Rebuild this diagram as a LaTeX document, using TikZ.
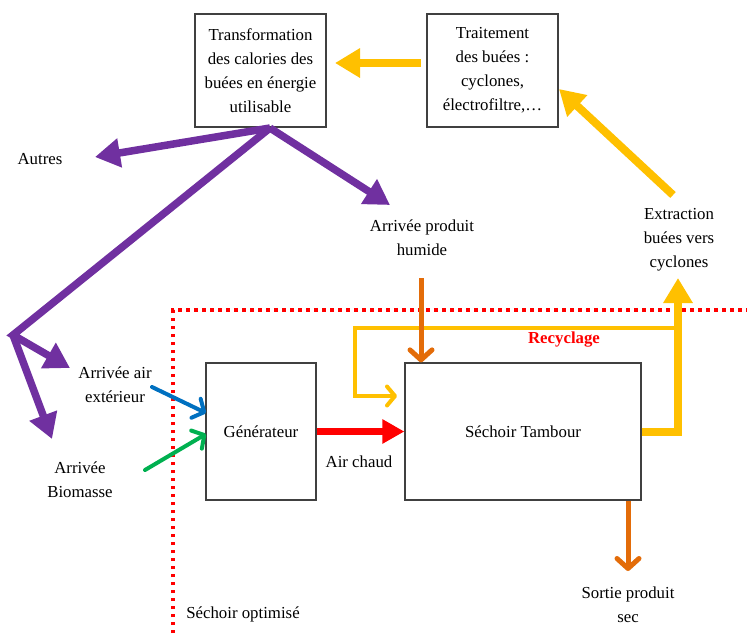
\documentclass[tikz,border=0pt]{standalone}
\usepackage{fontspec}
\setmainfont{Liberation Serif}
\usetikzlibrary{arrows.meta}
\definecolor{cpurple}{HTML}{7030A0}
\definecolor{cyellow}{HTML}{FFC000}
\definecolor{corange}{HTML}{E36C09}
\definecolor{cblue}{HTML}{0070C0}
\definecolor{cgreen}{HTML}{00B050}
\definecolor{cred}{HTML}{FF0000}
\begin{document}
\begin{tikzpicture}[x=1pt,y=-1pt,
  lbl/.style={font=\fontsize{16.8}{24}\selectfont, align=center, inner sep=0pt},
  box/.style={draw=black!75, line width=1.2pt, font=\fontsize{16.8}{24}\selectfont, align=center, inner sep=0pt},
  bigtip/.style={-{Triangle[length=25pt,width=28pt]}},
  redtip/.style={-{Triangle[length=22pt,width=23pt]}},
  barb/.style={-{Straight Barb[length=9pt,width=21pt,round]}, line cap=round},
  purp/.style={draw=cpurple, line width=7.5pt, line join=miter},
  ybig/.style={draw=cyellow, line width=8pt},
  dotline/.style={draw=cred, line width=3.5pt, dash pattern=on 3.5pt off 4.5pt}
]
\useasboundingbox (0,0) rectangle (747,633);

% boxes
\node[box, minimum width=131pt, minimum height=113pt] (trans) at (260.5,70.5) {Transformation\\des calories des\\buées en énergie\\utilisable};
\node[box, minimum width=131pt, minimum height=113pt] (trait) at (492.5,70.5) {Traitement\\des buées :\\cyclones,\\électrofiltre,…};
\node[box, minimum width=110pt, minimum height=137pt] (gen) at (261,431.5) {Générateur};
\node[box, minimum width=236pt, minimum height=137pt] (sech) at (523,431.5) {Séchoir Tambour};

% labels
\node[lbl] (autres) at (40,159) {Autres};
\node[lbl] (produit) at (422,238) {Arrivée produit\\humide};
\node[lbl] (air) at (115,384.5) {Arrivée air\\extérieur};
\node[lbl] (bio) at (80,480) {Arrivée\\Biomasse};
\node[lbl] (chaud) at (359,462) {Air chaud};
\node[lbl, font=\fontsize{16.8}{24}\selectfont\bfseries, text=cred] (recy) at (564,340) {Recyclage};
\node[lbl] (extr) at (679,240) {Extraction\\buées vers\\cyclones};
\node[lbl] (sortie) at (628,605) {Sortie produit\\sec};
\node[lbl] (optim) at (243,614) {Séchoir optimisé};

% coordinates
\coordinate (p0) at (270,128);
\coordinate (bend) at (13,335);
\coordinate (tAutres) at (95,157);
\coordinate (tProd) at (390,205);
\coordinate (tAir) at (70,368);
\coordinate (tBio) at (52,439);
\coordinate (bS) at (152,387);
\coordinate (bT) at (206,413);
\coordinate (gS) at (145,470);
\coordinate (gT) at (206,434);
\coordinate (otop) at (421,278);
\coordinate (obot) at (628,571);
\coordinate (yup) at (678,278);
\coordinate (rc) at (678,328);
\coordinate (r1) at (355,328);
\coordinate (r2) at (397,396);
\coordinate (eS) at (673,195);
\coordinate (eT) at (559,89);
\coordinate (tS) at (421,63);
\coordinate (tT) at (335,63);
\coordinate (d0) at (173,633);
\coordinate (d1) at (173,310);
\coordinate (d2) at (747,310);

% dotted boundary
\draw[dotline] (d0) -- (d1) -- (d2);

% purple arrows
\draw[purp, bigtip] (p0) -- (tAutres);
\draw[purp, bigtip] (p0) -- (tProd);
\draw[purp, bigtip] (p0) -- (bend) -- (tAir);
\draw[purp, bigtip] (bend) -- (tBio);

% yellow arrows
\draw[ybig, bigtip] (tS) -- (tT);
\draw[ybig, bigtip] (eS) -- (eT);
\draw[ybig, bigtip] (sech.east) -| (yup);
\draw[draw=cyellow, line width=4pt, -{Straight Barb[length=8pt,width=19pt,round]}, line cap=round] (rc) -- (r1) |- (r2);

% red hot air
\draw[draw=cred, line width=7pt, redtip] (gen.east) -- (sech.west);

% inputs
\draw[draw=cblue, line width=4pt, barb] (bS) -- (bT);
\draw[draw=cgreen, line width=4pt, barb] (gS) -- (gT);

% product flow
\draw[draw=corange, line width=5pt, -{Straight Barb[length=10pt,width=22pt,round]}] (otop) -- (otop |- sech.north);
\draw[draw=corange, line width=5pt, -{Straight Barb[length=10pt,width=22pt,round]}] (obot |- sech.south) -- (obot);
\end{tikzpicture}
\end{document}
